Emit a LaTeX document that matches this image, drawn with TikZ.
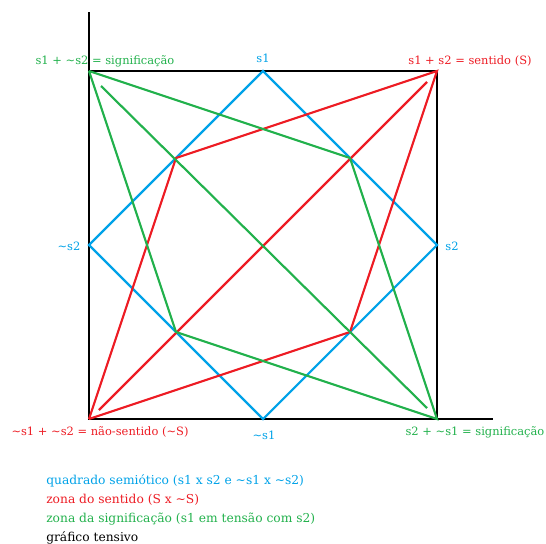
\documentclass[tikz,border=0pt]{standalone}
\usepackage{fontspec}
\setmainfont{DejaVu Serif}
\definecolor{pblue}{HTML}{00A2E8}
\definecolor{pred}{HTML}{ED1C24}
\definecolor{pgreen}{HTML}{22B14C}
\begin{document}
\begin{tikzpicture}[x=0.75pt,y=-0.75pt,
  axis/.style={draw=black,line width=1.9pt},
  bl/.style={draw=pblue,line width=1.6pt},
  rd/.style={draw=pred,line width=1.6pt},
  gr/.style={draw=pgreen,line width=1.6pt},
  lbl/.style={font=\fontsize{8.6}{10}\selectfont,inner sep=0pt},
  leg/.style={font=\fontsize{9.2}{10}\selectfont,inner sep=0pt,anchor=west}]
\useasboundingbox (0,0) rectangle (546,543);
% corners and points
\coordinate (TL) at (89,71);
\coordinate (TR) at (437,71);
\coordinate (BL) at (89,419);
\coordinate (BR) at (437,419);
\coordinate (T) at (263,71);
\coordinate (R) at (437,245);
\coordinate (B) at (263,419);
\coordinate (L) at (89,245);
\coordinate (P1) at (176,158);
\coordinate (P2) at (350,158);
\coordinate (P3) at (350,332);
\coordinate (P4) at (176,332);
\coordinate (ytop) at (89,12);
\coordinate (xend) at (493,419);
\coordinate (rd1) at (99,410);
\coordinate (rd2) at (427,82);
\coordinate (gd1) at (101,86);
\coordinate (gd2) at (427,408);
% axes and square
\draw[axis] (ytop) -- (BL) -- (xend);
\draw[axis] (TL) -- (TR) -- (BR);
% blue diamond
\draw[bl] (T) -- (R) -- (B) -- (L) -- cycle;
% red lines
\draw[rd] (BL) -- (P1) -- (TR) -- (P3) -- (BL);
\draw[rd] (rd1) -- (rd2);
% green lines
\draw[gr] (TL) -- (P2) -- (BR) -- (P4) -- (TL);
\draw[gr] (gd1) -- (gd2);
% labels
\node[lbl,text=pgreen] (lTL) at (105,61) {s1 + \textasciitilde s2 = significação};
\node[lbl,text=pblue] (lT) at (263,58) {s1};
\node[lbl,text=pred] (lTR) at (470,61) {s1 + s2 = sentido (S)};
\node[lbl,text=pblue] (lL) at (69,246) {\textasciitilde s2};
\node[lbl,text=pblue] (lR) at (452,246) {s2};
\node[lbl,text=pred] (lBL) at (100,432) {\textasciitilde s1 + \textasciitilde s2 = não-sentido (\textasciitilde S)};
\node[lbl,text=pblue] (lB) at (264,435) {\textasciitilde s1};
\node[lbl,text=pgreen] (lBR) at (475,432) {s2 + \textasciitilde s1 = significação};
% legend
\node[leg,text=pblue] (g1) at (46,481) {quadrado semiótico (s1 x s2 e \textasciitilde s1 x \textasciitilde s2)};
\node[leg,text=pred] (g2) at (46,500) {zona do sentido (S x \textasciitilde S)};
\node[leg,text=pgreen] (g3) at (46,519) {zona da significação (s1 em tensão com s2)};
\node[leg,text=black] (g4) at (46,538) {gráfico tensivo};
\end{tikzpicture}
\end{document}
